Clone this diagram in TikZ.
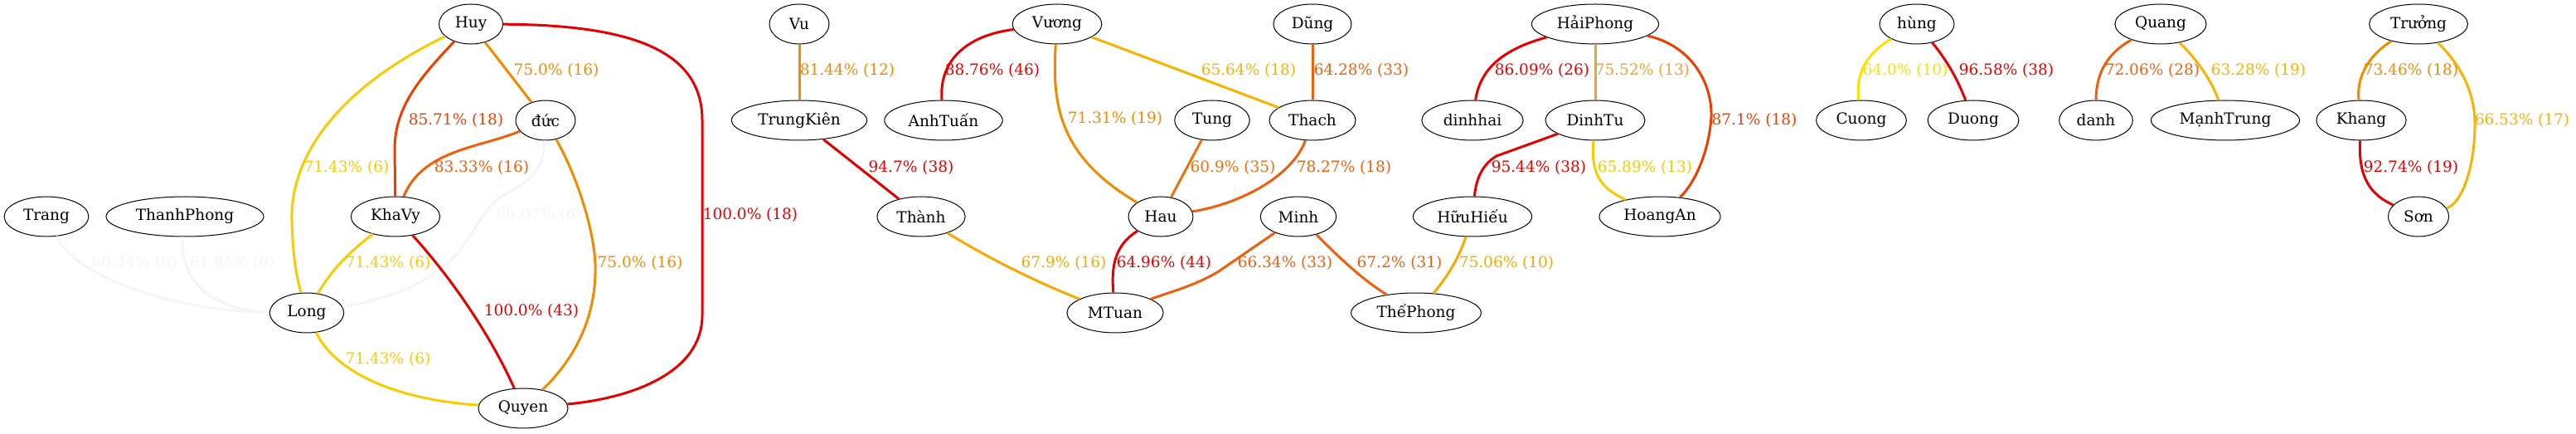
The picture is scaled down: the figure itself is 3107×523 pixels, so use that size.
\documentclass[tikz,border=0pt]{standalone}
\usepackage{fontspec}
\setmainfont{DejaVu Serif}
\usetikzlibrary{shapes.geometric}
\definecolor{cR}{HTML}{E60000}
\definecolor{cRO}{HTML}{EC3F00}
\definecolor{cOa}{HTML}{F0600C}
\definecolor{cOb}{HTML}{F0700C}
\definecolor{cO}{HTML}{F28A00}
\definecolor{cOL}{HTML}{F2A030}
\definecolor{cA}{HTML}{F8A800}
\definecolor{cAY}{HTML}{F8B200}
\definecolor{cG}{HTML}{F8CC00}
\definecolor{cY}{HTML}{F8E200}
\definecolor{cF}{HTML}{F4F4FA}
\begin{document}
\begin{tikzpicture}[x=0.5pt,y=-0.5pt,
  nd/.style={ellipse,draw=black,line width=0.5pt,inner xsep=4pt,inner ysep=1pt,minimum height=24pt,minimum width=36pt,font=\fontsize{9.25}{11}\selectfont},
  ed/.style={line width=1.5pt},
  lb/.style={font=\fontsize{9.25}{11}\selectfont,inner sep=0pt}]
\useasboundingbox (0,0) rectangle (3107,523);
% nodes
\node[nd] (Trang) at (56,261) {Trang};
\node[nd] (ThanhPhong) at (223,261) {ThanhPhong};
\node[nd] (KhaVy) at (477,261) {KhaVy};
\node[nd] (Long) at (370,377) {Long};
\node[nd] (Huy) at (568,29) {Huy};
\node[nd] (duc) at (658,145) {đức};
\node[nd] (Quyen) at (631,492) {Quyen};
\node[nd] (Vu) at (964,29) {Vu};
\node[nd] (TrungKien) at (964,145) {TrungKiên};
\node[nd] (Vuong) at (1275,29) {Vương};
\node[nd] (AnhTuan) at (1138,145) {AnhTuấn};
\node[nd] (Thanh) at (1111,261) {Thành};
\node[nd] (Tung) at (1462,145) {Tung};
\node[nd] (Hau) at (1400,261) {Hau};
\node[nd] (MTuan) at (1345,377) {MTuan};
\node[nd] (Dung) at (1583,29) {Dũng};
\node[nd] (Thach) at (1583,145) {Thach};
\node[nd] (Minh) at (1566,261) {Minh};
\node[nd] (ThePhong) at (1708,377) {ThếPhong};
\node[nd] (HaiPhong) at (1924,29) {HảiPhong};
\node[nd] (dinhhai) at (1776,145) {dinhhai};
\node[nd] (DinhTu) at (1924,145) {DinhTu};
\node[nd] (HuuHieu) at (1776,261) {HữuHiếu};
\node[nd] (HoangAn) at (2002,261) {HoangAn};
\node[nd] (hung) at (2312,29) {hùng};
\node[nd] (Cuong) at (2245,145) {Cuong};
\node[nd] (Duong) at (2380,145) {Duong};
\node[nd] (danh) at (2528,145) {danh};
\node[nd] (Quang) at (2606,29) {Quang};
\node[nd] (ManhTrung) at (2684,145) {MạnhTrung};
\node[nd] (Truong) at (2917,29) {Trưởng};
\node[nd] (Khang) at (2848,145) {Khang};
\node[nd] (Son) at (2917,261) {Sơn};
% faint edges
\draw[ed,cF] (Trang) .. controls (90,330) and (200,375) .. (Long);
\draw[ed,cF] (ThanhPhong) .. controls (215,340) and (260,375) .. (Long);
\draw[ed,cF] (duc) .. controls (655,220) and (620,225) .. (600,240) .. controls (575,262) and (565,300) .. (530,325) .. controls (490,355) and (440,365) .. (Long);
\node[lb,cF] at (162,317) {60.44\% (6)};
\node[lb,cF] at (280,317) {61.84\% (6)};
\node[lb,cF] at (650,259) {66.07\% (6)};
% component 1
\draw[ed,cG] (Huy) .. controls (420,100) and (350,180) .. (352,265) .. controls (353,310) and (358,335) .. (Long);
\draw[ed,cRO] (Huy) .. controls (505,95) and (476,130) .. (476,180) -- (KhaVy);
\draw[ed,cO] (Huy) -- (duc);
\draw[ed,cR] (Huy) .. controls (760,30) and (847,60) .. (847,145) -- (847,380) .. controls (847,450) and (760,480) .. (Quyen);
\draw[ed,cOa] (duc) .. controls (580,178) and (510,180) .. (KhaVy);
\draw[ed,cO] (duc) .. controls (700,220) and (720,290) .. (718,330) .. controls (716,400) and (680,445) .. (Quyen);
\draw[ed,cR] (KhaVy) .. controls (540,330) and (590,400) .. (Quyen);
\draw[ed,cG] (KhaVy) .. controls (420,305) and (400,325) .. (Long);
\draw[ed,cG] (Long) .. controls (400,440) and (460,480) .. (Quyen);
\node[lb,cG] at (418,202) {71.43\% (6)};
\node[lb,cRO] at (550,145) {85.71\% (18)};
\node[lb,cO] at (671,85) {75.0\% (16)};
\node[lb,cR] at (905,259) {100.0\% (18)};
\node[lb,cOa] at (581,202) {83.33\% (16)};
\node[lb,cO] at (772,317) {75.0\% (16)};
\node[lb,cR] at (641,375) {100.0\% (43)};
\node[lb,cG] at (468,317) {71.43\% (6)};
\node[lb,cG] at (468,433) {71.43\% (6)};
% component 2
\draw[ed,cO] (Vu) -- (TrungKien);
\draw[ed,cR] (TrungKien) -- (Thanh);
\draw[ed,cA] (Thanh) .. controls (1190,310) and (1250,340) .. (MTuan);
\draw[ed,cR] (Vuong) .. controls (1170,42) and (1132,70) .. (AnhTuan);
\draw[ed,cO] (Vuong) .. controls (1268,130) and (1280,190) .. (Hau);
\draw[ed,cAY] (Vuong) -- (Thach);
\draw[ed,cOb] (Tung) -- (Hau);
\draw[ed,cOa] (Thach) .. controls (1560,210) and (1500,245) .. (Hau);
\draw[ed,cOa] (Dung) -- (Thach);
\draw[ed,cR] (Hau) .. controls (1345,295) and (1340,320) .. (MTuan);
\draw[ed,cOa] (Minh) -- (1470,327) .. controls (1440,345) and (1410,352) .. (MTuan);
\draw[ed,cOa] (Minh) .. controls (1610,305) and (1640,335) .. (ThePhong);
\draw[ed,cA] (HuuHieu) .. controls (1760,310) and (1745,335) .. (ThePhong);
\node[lb,cO] at (1022,85) {81.44\% (12)};
\node[lb,cR] at (1099,202) {94.7\% (38)};
\node[lb,cA] at (1283,317) {67.9\% (16)};
\node[lb,cR] at (1197,85) {88.76\% (46)};
\node[lb,cO] at (1345,143) {71.31\% (19)};
\node[lb,cAY] at (1506,85) {65.64\% (18)};
\node[lb,cOb] at (1487,202) {60.9\% (35)};
\node[lb,cOa] at (1621,202) {78.27\% (18)};
\node[lb,cOa] at (1642,85) {64.28\% (33)};
\node[lb,cR] at (1404,317) {64.96\% (44)};
\node[lb,cOa] at (1550,317) {66.34\% (33)};
\node[lb,cOa] at (1688,317) {67.2\% (31)};
\node[lb,cA] at (1817,317) {75.06\% (10)};
% component 3
\draw[ed,cR] (HaiPhong) .. controls (1810,60) and (1785,85) .. (dinhhai);
\draw[ed,cOL] (HaiPhong) -- (DinhTu);
\draw[ed,cRO] (HaiPhong) .. controls (2040,55) and (2065,100) .. (2064,140) .. controls (2062,180) and (2045,220) .. (HoangAn);
\draw[ed,cR] (DinhTu) -- (1805,188) .. controls (1785,200) and (1780,220) .. (HuuHieu);
\draw[ed,cG] (DinhTu) .. controls (1918,215) and (1935,228) .. (HoangAn);
\node[lb,cR] at (1860,85) {86.09\% (26)};
\node[lb,cOL] at (1981,85) {75.52\% (13)};
\node[lb,cRO] at (2116,145) {87.1\% (18)};
\node[lb,cR] at (1856,202) {95.44\% (38)};
\node[lb,cG] at (1984,202) {65.89\% (13)};
% component 4
\draw[ed,cY] (hung) .. controls (2250,65) and (2238,90) .. (Cuong);
\draw[ed,cR] (hung) .. controls (2350,75) and (2362,98) .. (Duong);
\node[lb,cY] at (2298,85) {64.0\% (10)};
\node[lb,cR] at (2420,85) {96.58\% (38)};
% component 5
\draw[ed,cOa] (Quang) .. controls (2545,62) and (2528,85) .. (danh);
\draw[ed,cAY] (Quang) .. controls (2650,72) and (2668,98) .. (ManhTrung);
\node[lb,cOa] at (2596,85) {72.06\% (28)};
\node[lb,cAY] at (2724,85) {63.28\% (19)};
% component 6
\draw[ed,cO] (Truong) .. controls (2855,68) and (2842,95) .. (Khang);
\draw[ed,cAY] (Truong) .. controls (2975,85) and (2985,120) .. (2985,150) .. controls (2985,200) and (2970,245) .. (Son);
\draw[ed,cR] (Khang) .. controls (2844,215) and (2860,235) .. (Son);
\node[lb,cO] at (2908,85) {73.46\% (18)};
\node[lb,cAY] at (3042,145) {66.53\% (17)};
\node[lb,cR] at (2908,202) {92.74\% (19)};
\end{tikzpicture}
\end{document}
